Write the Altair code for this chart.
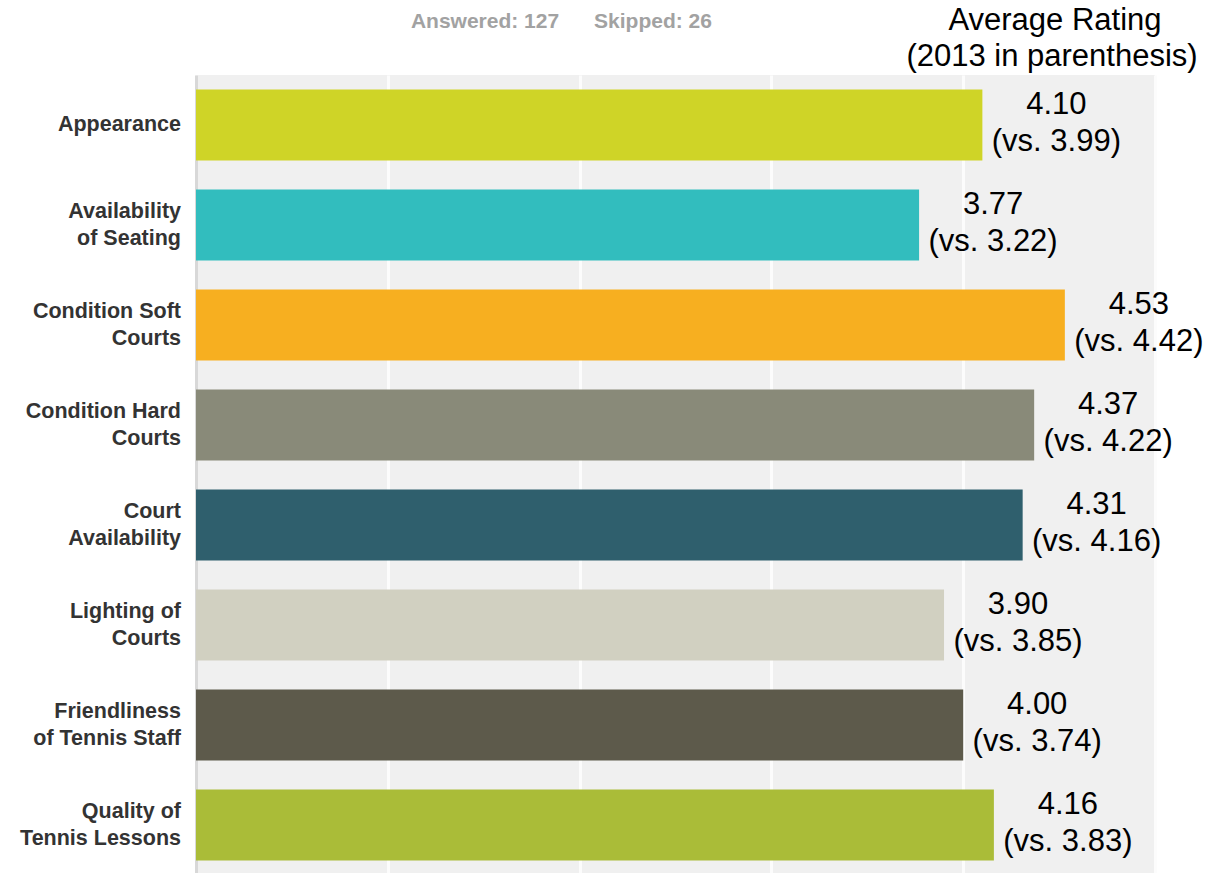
import altair as alt
import pandas as pd

categories = ["Appearance", "Availability of Seating", "Condition Soft Courts",
              "Condition Hard Courts", "Court Availability", "Lighting of Courts",
              "Friendliness of Tennis Staff", "Quality of Tennis Lessons"]
axis_labels = ["Appearance", "Availability\nof Seating", "Condition Soft\nCourts",
               "Condition Hard\nCourts", "Court\nAvailability", "Lighting of\nCourts",
               "Friendliness\nof Tennis Staff", "Quality of\nTennis Lessons"]
rating_now = [4.10, 3.77, 4.53, 4.37, 4.31, 3.90, 4.00, 4.16]
rating_2013 = [3.99, 3.22, 4.42, 4.22, 4.16, 3.85, 3.74, 3.83]
bar_colors = ["#cfd427", "#32bdbe", "#f7af20", "#898a79", "#2f5f6d",
              "#d1d0c1", "#5d5a4b", "#aabc38"]

df = pd.DataFrame({
    "category": categories,
    "label": axis_labels,
    "rating": rating_now,
    "prev": rating_2013,
})
df["value_text"] = [f"{a:.2f}\n(vs. {b:.2f})" for a, b in zip(rating_now, rating_2013)]

FONT = "Liberation Sans"
LABEL_LH = 27
HEIGHT = 800
PAD_INNER = 0.29
PAD_OUTER = 0.145
STEP = HEIGHT / (len(categories) - PAD_INNER + 2 * PAD_OUTER)
HALF_BAND = STEP * (1 - PAD_INNER) / 2

yscale = alt.Scale(domain=categories, paddingInner=PAD_INNER, paddingOuter=PAD_OUTER)
xscale = alt.Scale(domain=[0, 5], nice=False)

base = alt.Chart(df)

bars = base.mark_bar().encode(
    x=alt.X("rating:Q", scale=xscale,
            axis=alt.Axis(values=[0, 1, 2, 3, 4, 5], labels=False, ticks=False,
                          domain=False, title=None, grid=True,
                          gridColor="#fcfcfc", gridWidth=3)),
    y=alt.Y("category:N", scale=yscale, sort=categories,
            axis=alt.Axis(labels=False, ticks=False, title=None, grid=False,
                          domain=True, domainColor="#d8d8d8", domainWidth=3)),
    color=alt.Color("category:N", scale=alt.Scale(domain=categories, range=bar_colors),
                    legend=None),
)

values = base.mark_text(
    font=FONT, fontSize=31, color="#000000", align="center", baseline="middle",
    lineBreak="\n", lineHeight=37, dx=74, dy=-20,
).encode(
    x=alt.X("rating:Q", scale=xscale),
    y=alt.Y("category:N", scale=yscale, sort=categories),
    text="value_text:N",
)

ylabels = base.transform_calculate(
    lift=f"{HALF_BAND} + (1 - length(split(datum.label, '\\n'))) * {LABEL_LH / 2}"
).mark_text(
    font=FONT, fontSize=21.5, fontWeight="bold", color="#333333", align="right",
    baseline="middle", lineBreak="\n", lineHeight=LABEL_LH,
).encode(
    x=alt.value(-15),
    y=alt.Y("category:N", scale=yscale, sort=categories),
    yOffset=alt.YOffset("lift:Q", scale=None),
    text="label:N",
)

def note(txt, x, y, size, color, weight="normal", align="center"):
    return alt.Chart(pd.DataFrame({"t": [txt]})).mark_text(
        font=FONT, fontSize=size, color=color, fontWeight=weight,
        align=align, baseline="alphabetic",
    ).encode(x=alt.value(x), y=alt.value(y), text="t:N")

answered = note("Answered: 127", 289, -47, 21, "#a2a2a2", "bold")
skipped = note("Skipped: 26", 457, -47, 21, "#a2a2a2", "bold")
title1 = note("Average Rating", 859, -45, 31, "#000000")
title2 = note("(2013 in parenthesis)", 856, -9, 31, "#000000")

chart = alt.layer(bars, values, ylabels, answered, skipped, title1, title2).properties(
    width=959, height=HEIGHT,
    autosize=alt.AutoSizeParams(type="none"),
    padding={"left": 196, "top": 75, "right": 54, "bottom": 0},
).configure_view(fill="#f0f0f0", strokeWidth=0)

chart.save("out.html", embed_options={"renderer": "svg", "actions": False})
